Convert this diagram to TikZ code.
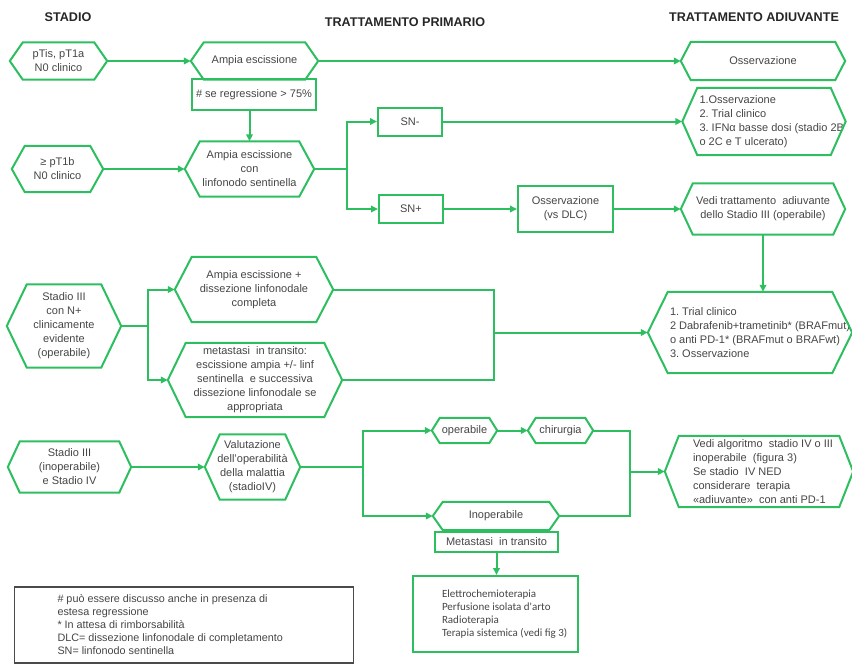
\documentclass[tikz,border=0pt]{standalone}
\usepackage{fontspec}
\setmainfont{Liberation Sans}
\newfontfamily\calfont{Carlito}
\usetikzlibrary{arrows.meta}
\definecolor{flowgreen}{HTML}{2DBE60}
\definecolor{flowtext}{HTML}{454545}
\definecolor{keygray}{HTML}{4A4A4A}
\frenchspacing

\begin{document}
\begin{tikzpicture}[x=1pt, y=-1pt,
  txt/.style={font=\fontsize{11}{14}\selectfont, text=flowtext, align=center, inner sep=0pt},
  hexa/.style={txt},
  boxg/.style={txt, draw=flowgreen, line width=2pt},
  head/.style={font=\fontsize{12.6}{14}\selectfont\bfseries, text=black!85},
  link/.style={draw=flowgreen, line width=2pt},
  arrow/.style={link, -{Triangle[length=7pt, width=6.5pt]}}
]
\useasboundingbox (0,0) rectangle (852,665);
\node[head] (hstadio) at (68,17) {STADIO};
\node[head] (hprim) at (405,22) {TRATTAMENTO PRIMARIO};
\node[head] (hadiuv) at (754,17) {TRATTAMENTO ADIUVANTE};
% stadio pTis / pT1a
\node[hexa, minimum width=97, minimum height=37] (ptis) at (58.5,61) {pTis, pT1a\\N0 clinico};
\node[hexa, minimum width=127, minimum height=37] (ampia) at (254.5,61) {Ampia escissione};
\node[boxg, minimum width=124, minimum height=31] (regr) at (254,94.5) {\# se regressione > 75\%};
\node[hexa, minimum width=164, minimum height=38] (oss1) at (763,61) {Osservazione};
% stadio >= pT1b
\node[hexa, minimum width=91, minimum height=46] (pt1b) at (57.5,169) {≥ pT1b\\N0 clinico};
\node[hexa, minimum width=129, minimum height=55] (ampiasn) at (249.5,169) {Ampia escissione\\con\\linfonodo sentinella};
\node[boxg, minimum width=64, minimum height=28] (snneg) at (410,121.5) {SN-};
\node[boxg, minimum width=64, minimum height=28] (snpos) at (411,209) {SN+};
\node[hexa, align=flush left, text width=129, inner xsep=17, minimum height=67] (oss2) at (764,121.5) {1.Osservazione\\2. Trial clinico\\\mbox{3. IFNα basse dosi (stadio 2B}\\o 2C e T ulcerato)};
\node[boxg, minimum width=95, minimum height=46] (ossdlc) at (565.5,209) {Osservazione\\(vs DLC)};
\node[hexa, minimum width=164, minimum height=51] (vedi3) at (763,209) {Vedi trattamento\ \ adiuvante\\dello Stadio III (operabile)};
% stadio III operabile
\node[hexa, minimum width=114, minimum height=83] (st3) at (64,326) {Stadio III\\con N+\\clinicamente\\evidente\\(operabile)};
\node[hexa, minimum width=158, minimum height=65] (aedlc) at (254,289.5) {Ampia escissione +\\dissezione linfonodale\\completa};
\node[hexa, minimum width=174, minimum height=74] (metas) at (255,380) {metastasi\ \ in transito:\\escissione ampia +/- linf\\sentinella\ \ e successiva\\dissezione linfonodale se\\appropriata};
\coordinate (jn3) at (494,332.5);
\node[hexa, align=flush left, text width=160, inner xsep=22, minimum height=81] (trial) at (750,332.5) {1. Trial clinico\\\mbox{2 Dabrafenib+trametinib* (BRAFmut)}\\\mbox{o anti PD-1* (BRAFmut o BRAFwt)}\\3. Osservazione};
% stadio III inoperabile e IV
\node[hexa, minimum width=123, minimum height=51] (st4) at (69.5,467) {Stadio III\\(inoperabile)\\e Stadio IV};
\node[hexa, minimum width=95, minimum height=65] (valut) at (252.5,467) {Valutazione\\dell'operabilità\\della malattia\\(stadioIV)};
\node[hexa, minimum width=65, minimum height=25] (oper) at (464.5,430.5) {operabile};
\node[hexa, minimum width=65, minimum height=25] (chir) at (560.5,430.5) {chirurgia};
\node[hexa, minimum width=126, minimum height=28] (inop) at (496,516) {Inoperabile};
\node[boxg, minimum width=123, minimum height=20] (mettr) at (496.5,542) {Metastasi\ \ in transito};
\node[boxg, font=\calfont\fontsize{11}{13}\selectfont, align=flush left, text width=107, inner xsep=29, minimum height=76] (elettro) at (495.5,614) {Elettrochemioterapia\\\mbox{Perfusione isolata d'arto}\\Radioterapia\\\mbox{Terapia sistemica (vedi fig 3)}};
\coordinate (jn4) at (630,471.5);
\node[hexa, align=flush left, text width=132, inner xsep=28, minimum height=71] (vedi4) at (759,471.5) {\mbox{Vedi algoritmo\ \ stadio IV o III}\\inoperabile\ \ (figura 3)\\Se stadio\ \ IV NED\\considerare\ \ terapia\\\mbox{«adiuvante»\ \ con anti PD-1}};
% legenda
\node[txt, draw=keygray, line width=1.6pt, align=flush left, text width=253, inner xsep=43, minimum height=76, font=\fontsize{10.8}{13}\selectfont] (legenda) at (184,625) {\# può essere discusso anche in presenza di\\estesa regressione\\{*} In attesa di rimborsabilità\\\mbox{DLC= dissezione linfonodale di completamento}\\SN= linfonodo sentinella};
% contorni esagonali
\foreach \n/\i in {ptis/13, ampia/13, oss1/10, pt1b/13, ampiasn/15, oss2/15, vedi3/12, st3/20, aedlc/17, metas/18, trial/20, st4/12, valut/15, oper/8, chir/8, inop/10, vedi4/14}
  \draw[link] (\n.west) -- ([xshift=\i pt]\n.north west) -- ([xshift=-\i pt]\n.north east) -- (\n.east) -- ([xshift=-\i pt]\n.south east) -- ([xshift=\i pt]\n.south west) -- cycle;
% collegamenti
\draw[arrow] (ptis.east) -- (ampia.west);
\draw[arrow] (ampia.east) -- (oss1.west);
\draw[arrow] (ampiasn.north |- regr.south) -- (ampiasn.north);
\draw[arrow] (pt1b.east) -- (ampiasn.west);
\draw[arrow] (ampiasn.east) -- ++(33,0) |- (snneg.west);
\draw[arrow] (ampiasn.east) -- ++(33,0) |- (snpos.west);
\draw[arrow] (snneg.east) -- (oss2.west);
\draw[arrow] (snpos.east) -- (ossdlc.west);
\draw[arrow] (ossdlc.east) -- (vedi3.west);
\draw[arrow] (vedi3.south) -- (vedi3.south |- trial.north);
\draw[arrow] (st3.east) -- ++(27,0) |- (aedlc.west);
\draw[arrow] (st3.east) -- ++(27,0) |- (metas.west);
\draw[link] (aedlc.east) -| (jn3);
\draw[link] (metas.east) -| (jn3);
\draw[arrow] (jn3) -- (trial.west);
\draw[arrow] (st4.east) -- (valut.west);
\draw[arrow] (valut.east) -- ++(63,0) |- (oper.west);
\draw[arrow] (valut.east) -- ++(63,0) |- (inop.west);
\draw[arrow] (oper.east) -- (chir.west);
\draw[link] (chir.east) -| (jn4);
\draw[link] (inop.east) -| (jn4);
\draw[arrow] (jn4) -- (vedi4.west);
\draw[arrow] (mettr.south) -- (mettr.south |- elettro.north);
\end{tikzpicture}
\end{document}
